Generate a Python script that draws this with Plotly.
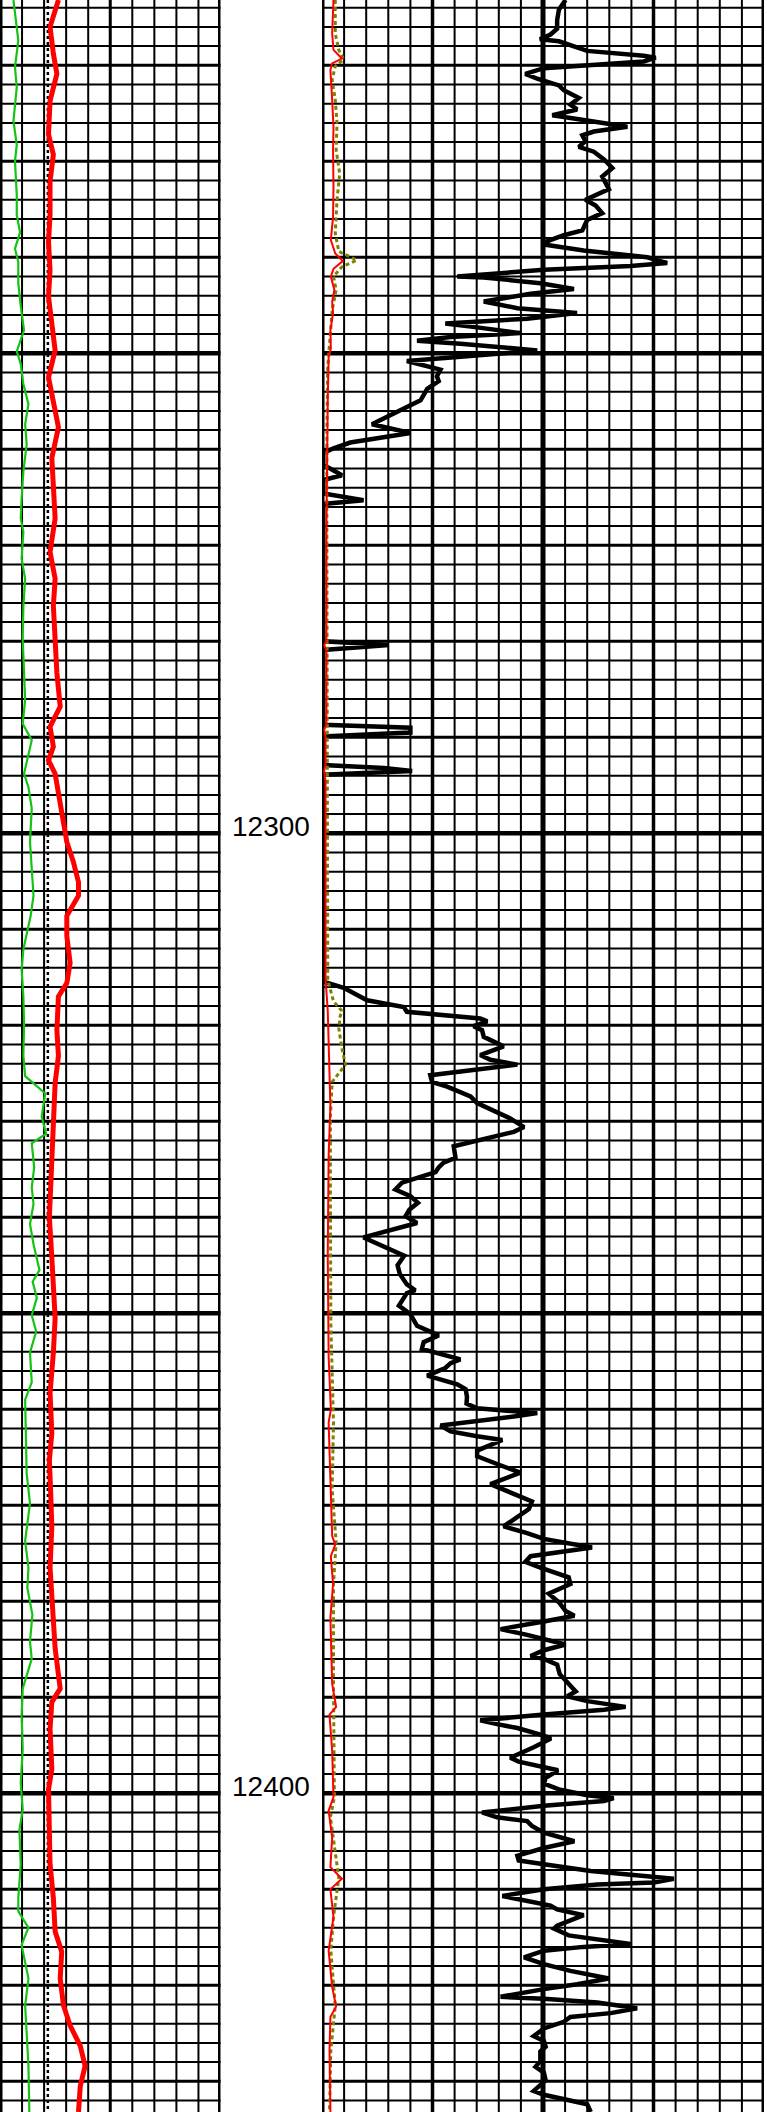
import plotly.graph_objects as go

# Depth window of the sheet (ft)
TOP_DEPTH = 12213.2
BOTTOM_DEPTH = 12433.2

# Depth annotations in the depth column
depth_labels = [12300, 12400]

# ---- Track 1 (scale 0-100, 10 divisions) ----
gr_depth = [12213.2, 12214.6, 12217.4, 12220.2, 12222.3, 12225.8, 12228.3, 12230.0, 12233.5, 12235.6,
            12237.4, 12239.1, 12240.5, 12242.7, 12245.1, 12247.6, 12249.8, 12251.1, 12253.2, 12255.3,
            12257.4, 12259.5, 12262.3, 12265.1, 12267.2, 12268.6, 12271.4, 12273.5, 12276.3, 12279.8,
            12283.3, 12286.1, 12288.6, 12290.3, 12293.8, 12295.2, 12297.4, 12300.9, 12306.5, 12308.6,
            12312.1, 12314.2, 12317.0, 12319.8, 12323.2, 12325.3, 12327.1, 12329.5, 12331.3, 12332.3,
            12334.8, 12336.9, 12338.6, 12340.7, 12342.8, 12345.5, 12346.7, 12348.4, 12350.2, 12351.9,
            12354.1, 12357.2, 12359.0, 12362.5, 12366.7, 12369.8, 12373.7, 12376.5, 12378.6, 12381.4,
            12384.2, 12386.0, 12389.1, 12391.9, 12395.4, 12398.9, 12401.7, 12403.8, 12407.4, 12410.9,
            12412.3, 12414.0, 12415.8, 12419.3, 12422.1, 12425.0, 12428.4, 12433.2]
gr_value = [6.1, 6.8, 8.3, 6.8, 7.6, 6.1, 7.6, 6.8, 7.6, 7.6,
            9.1, 6.8, 8.3, 8.3, 9.4, 10.9, 7.6, 9.4, 10.6, 12.9,
            11.4, 12.1, 10.6, 9.8, 9.4, 10.6, 9.8, 11.4, 10.6, 10.3,
            10.9, 11.4, 10.3, 14.4, 10.9, 12.9, 14.4, 13.6, 15.2, 13.9,
            10.6, 9.8, 10.6, 10.9, 10.6, 11.4, 20.5, 18.9, 20.9, 14.4,
            15.5, 14.4, 15.2, 13.6, 15.2, 17.9, 14.8, 16.7, 14.4, 16.4,
            13.6, 14.4, 11.4, 11.8, 12.1, 13.6, 11.4, 12.9, 12.4, 14.7,
            13.6, 14.4, 10.3, 9.8, 10.3, 9.4, 10.3, 8.8, 9.4, 8.3,
            8.3, 12.9, 9.8, 12.9, 11.4, 12.1, 12.9, 13.3]

cali_depth = [12213.2, 12216.0, 12218.8, 12220.9, 12223.7, 12227.2, 12229.3, 12232.1, 12235.6, 12238.4,
              12241.3, 12244.1, 12246.9, 12249.7, 12252.5, 12255.3, 12257.7, 12260.9, 12263.7, 12267.2,
              12270.7, 12273.5, 12276.3, 12279.8, 12283.3, 12286.8, 12288.9, 12291.0, 12292.4, 12293.8,
              12296.0, 12298.1, 12300.9, 12303.0, 12305.1, 12306.5, 12308.6, 12310.7, 12313.5, 12315.6,
              12317.0, 12320.5, 12323.2, 12326.0, 12330.2, 12335.8, 12340.0, 12344.2, 12350.5, 12354.1,
              12358.3, 12362.5, 12365.3, 12368.8, 12372.3, 12376.5, 12381.4, 12384.9, 12389.1, 12390.5,
              12393.3, 12397.5, 12399.6, 12402.4, 12407.4, 12410.9, 12414.4, 12416.5, 12419.3, 12422.1,
              12424.2, 12426.3, 12428.4, 12430.5, 12433.2]
cali_value = [26.5, 22.7, 24.2, 25.8, 22.7, 22.0, 24.2, 22.7, 22.7, 22.0,
              22.7, 22.0, 23.5, 25.0, 22.0, 24.2, 26.5, 23.5, 24.2, 25.0,
              22.7, 25.0, 24.2, 25.0, 25.8, 27.3, 22.7, 24.2, 22.0, 25.0,
              26.5, 28.0, 30.3, 33.3, 35.6, 35.6, 30.3, 30.3, 31.8, 30.3,
              26.5, 25.8, 26.5, 25.0, 24.2, 22.7, 22.4, 23.5, 25.0, 24.2,
              22.7, 23.5, 22.4, 23.0, 23.5, 22.7, 23.9, 25.0, 27.3, 23.5,
              22.7, 23.5, 22.0, 22.4, 22.7, 24.2, 25.0, 28.0, 27.3, 28.8,
              31.8, 36.4, 38.6, 36.4, 35.6]

bs_depth = [TOP_DEPTH, BOTTOM_DEPTH]
bs_value = [21.7, 21.7]

# ---- Track 3 (scale 0-100, 20 divisions) ----
deep_depth = [12213.2, 12214.2, 12215.3, 12216.2, 12216.8, 12217.3, 12217.5, 12218.5, 12219.0, 12219.2,
              12219.6, 12220.3, 12220.9, 12221.4, 12222.1, 12222.6, 12223.4, 12224.1, 12224.6, 12225.2,
              12225.7, 12226.4, 12226.9, 12227.3, 12227.9, 12228.5, 12229.0, 12229.8, 12230.7, 12231.6,
              12232.9, 12234.0, 12234.6, 12235.4, 12236.1, 12237.2, 12237.7, 12238.4, 12238.7, 12239.3,
              12240.0, 12240.6, 12240.9, 12241.3, 12242.0, 12242.1, 12242.7, 12243.3, 12243.8, 12244.6,
              12245.3, 12245.8, 12246.4, 12246.9, 12247.3, 12247.9, 12248.3, 12248.7, 12249.0, 12249.7,
              12250.3, 12250.8, 12251.7, 12252.4, 12252.9, 12253.7, 12254.9, 12255.8, 12256.6, 12257.4,
              12258.3, 12259.3, 12259.9, 12260.4, 12261.6, 12262.7, 12263.2, 12264.6, 12265.3, 12265.7,
              12280.0, 12280.4, 12280.9, 12288.7, 12289.0, 12289.5, 12289.9, 12292.9, 12293.2, 12293.5,
              12293.9, 12315.1, 12315.5, 12316.1, 12317.4, 12318.1, 12318.6, 12319.3, 12319.6, 12320.1,
              12320.5, 12321.2, 12322.2, 12323.1, 12323.6, 12324.1, 12325.2, 12325.9, 12326.4, 12327.4,
              12328.1, 12329.2, 12329.7, 12330.6, 12331.1, 12332.6, 12333.8, 12334.3, 12334.8, 12335.3,
              12335.8, 12336.4, 12337.1, 12337.8, 12338.5, 12339.2, 12339.9, 12340.6, 12342.1, 12343.2,
              12344.0, 12345.0, 12345.9, 12347.0, 12347.6, 12347.9, 12349.2, 12350.1, 12351.3, 12352.3,
              12353.0, 12353.7, 12354.8, 12355.2, 12355.7, 12356.5, 12357.4, 12357.9, 12358.7, 12359.4,
              12359.9, 12360.4, 12360.7, 12361.7, 12362.3, 12362.8, 12363.2, 12364.3, 12364.9, 12365.7,
              12366.6, 12367.8, 12368.7, 12369.6, 12370.4, 12372.2, 12372.9, 12373.5, 12374.4, 12375.3,
              12375.9, 12376.5, 12377.5, 12378.2, 12379.2, 12380.1, 12381.0, 12381.5, 12382.1, 12382.9,
              12383.5, 12384.5, 12385.1, 12385.7, 12386.0, 12386.6, 12387.6, 12388.3, 12389.4, 12389.9,
              12390.4, 12391.0, 12391.3, 12391.8, 12392.4, 12392.8, 12393.2, 12394.0, 12394.3, 12395.2,
              12396.3, 12396.7, 12397.3, 12397.6, 12398.4, 12399.0, 12399.6, 12400.2, 12400.5, 12400.8,
              12401.3, 12402.0, 12402.5, 12402.9, 12403.4, 12404.1, 12405.0, 12405.7, 12406.5, 12407.0,
              12407.4, 12408.1, 12408.9, 12409.3, 12409.5, 12410.0, 12410.7, 12411.0, 12411.4, 12411.7,
              12412.1, 12412.7, 12413.8, 12414.1, 12414.8, 12415.7, 12416.0, 12416.4, 12417.1, 12417.8,
              12418.5, 12419.3, 12419.9, 12420.4, 12421.2, 12421.4, 12421.8, 12422.4, 12422.9, 12423.3,
              12423.8, 12424.5, 12425.3, 12425.8, 12426.4, 12426.9, 12427.9, 12428.5, 12429.1, 12429.9,
              12431.0, 12431.4, 12432.4, 12433.2]
deep_value = [55.1, 53.6, 53.2, 53.2, 51.7, 49.3, 53.6, 60.0, 72.8, 75.5,
              72.8, 50.2, 46.0, 48.7, 53.6, 54.7, 58.1, 56.2, 57.7, 52.1,
              59.2, 69.1, 61.5, 58.9, 59.6, 58.1, 61.5, 63.8, 65.7, 63.4,
              64.9, 59.6, 61.9, 63.4, 60.0, 58.9, 54.7, 50.6, 50.6, 59.2,
              73.6, 78.1, 69.8, 50.2, 30.6, 36.6, 49.4, 57.0, 47.2, 36.6,
              44.2, 57.7, 46.4, 27.9, 35.1, 44.9, 29.1, 21.5, 31.3, 48.7,
              32.8, 19.2, 26.8, 26.0, 26.4, 23.8, 22.3, 18.5, 14.7, 11.3,
              20.0, 6.4, 2.6, 0.3, 0.3, 4.5, 0.3, 0.3, 9.4, 0.3,
              0.3, 15.1, 0.3, 0.3, 20.0, 20.0, 0.3, 0.3, 14.0, 20.4,
              0.3, 0.3, 0.7, 4.9, 10.2, 18.5, 19.2, 35.8, 37.4, 34.3,
              36.2, 36.6, 41.1, 35.8, 38.1, 44.2, 24.5, 24.9, 28.3, 33.6,
              35.1, 40.4, 42.6, 45.7, 43.4, 29.8, 30.2, 27.5, 26.4, 25.7,
              22.3, 18.1, 16.6, 20.0, 21.7, 19.8, 18.9, 21.5, 9.4, 14.7,
              18.6, 17.1, 17.6, 19.2, 21.1, 19.2, 17.4, 20.0, 21.5, 26.4,
              23.0, 22.6, 31.3, 29.1, 27.9, 23.8, 30.6, 32.5, 32.8, 32.7,
              35.1, 48.7, 44.2, 26.8, 29.1, 35.1, 40.8, 35.1, 35.1, 39.6,
              44.9, 38.1, 42.6, 47.5, 46.8, 41.1, 46.4, 50.2, 61.1, 47.2,
              46.0, 49.4, 55.8, 56.2, 51.3, 53.6, 55.1, 57.1, 50.2, 40.4,
              46.4, 55.1, 50.2, 47.2, 50.2, 53.2, 53.8, 55.1, 57.4, 55.5,
              60.0, 68.7, 63.8, 50.2, 35.8, 39.6, 44.2, 50.2, 51.8, 47.9,
              42.6, 44.5, 50.2, 53.4, 50.6, 50.2, 53.6, 60.0, 66.0, 63.8,
              50.2, 36.2, 39.6, 46.4, 47.5, 50.2, 57.1, 50.2, 44.2, 44.5,
              50.2, 60.8, 79.6, 75.1, 62.3, 50.2, 40.8, 44.2, 48.7, 51.7,
              53.2, 59.2, 53.2, 52.5, 55.8, 69.8, 59.2, 50.2, 45.7, 50.2,
              56.2, 64.9, 57.7, 50.2, 40.4, 50.2, 62.3, 71.3, 65.3, 56.2,
              54.7, 50.2, 47.9, 50.2, 50.6, 49.4, 49.4, 48.3, 50.2, 50.6,
              47.9, 50.2, 60.0, 60.8]

med_depth = [12213.2, 12216.7, 12218.4, 12219.3, 12219.8, 12220.5, 12223.6, 12226.4, 12228.8, 12232.6,
             12235.8, 12238.2, 12239.6, 12240.4, 12241.2, 12242.0, 12243.4, 12244.6, 12245.8, 12247.6,
             12249.5, 12250.4, 12254.9, 12261.8, 12268.2, 12280.0, 12280.4, 12280.9, 12288.7, 12289.2,
             12289.9, 12292.9, 12293.5, 12294.6, 12315.1, 12318.5, 12322.4, 12323.2, 12328.4, 12333.6,
             12344.0, 12354.5, 12360.0, 12361.4, 12368.3, 12373.2, 12374.1, 12375.3, 12378.2, 12381.7,
             12388.6, 12391.0, 12391.8, 12395.6, 12400.4, 12401.8, 12404.6, 12407.7, 12408.9, 12410.0,
             12412.9, 12416.4, 12420.2, 12422.2, 12423.3, 12426.8, 12433.2]
med_value = [2.6, 2.3, 2.6, 4.5, 2.3, 1.9, 2.3, 2.6, 2.5, 2.6,
             2.5, 2.0, 3.0, 4.7, 2.6, 2.0, 2.8, 2.3, 2.5, 1.9,
             2.0, 1.5, 1.3, 1.1, 1.0, 1.0, 0.5, 1.0, 1.0, 0.5,
             0.8, 0.8, 0.5, 0.8, 0.8, 1.3, 1.5, 1.7, 1.9, 1.5,
             1.3, 1.5, 2.0, 1.5, 1.9, 2.3, 3.0, 2.0, 2.5, 1.9,
             2.3, 3.2, 1.7, 2.3, 2.6, 1.5, 2.3, 1.9, 4.5, 1.9,
             2.6, 1.5, 2.3, 3.2, 1.9, 1.7, 1.9]

shal_depth = [12213.2, 12216.7, 12218.4, 12219.4, 12220.1, 12221.5, 12223.6, 12226.0, 12228.8, 12231.3,
              12234.0, 12237.5, 12239.4, 12240.3, 12241.0, 12242.0, 12243.4, 12245.5, 12247.9, 12251.4,
              12258.3, 12268.2, 12315.1, 12315.6, 12317.5, 12318.5, 12319.1, 12320.3, 12322.4, 12324.1,
              12325.9, 12329.5, 12337.1, 12351.0, 12361.4, 12368.3, 12373.9, 12378.2, 12388.6, 12400.4,
              12402.5, 12408.8, 12412.9, 12416.4, 12422.1, 12426.8, 12433.2]
shal_value = [3.0, 3.0, 3.8, 4.9, 3.0, 2.3, 3.0, 3.4, 3.2, 4.0,
              3.4, 3.0, 3.8, 7.9, 4.5, 2.6, 3.2, 2.3, 1.9, 1.3,
              1.1, 1.1, 1.3, 1.5, 2.6, 4.5, 4.1, 3.8, 4.5, 5.3,
              2.3, 1.9, 1.9, 2.0, 2.6, 2.3, 3.2, 2.6, 2.6, 2.8,
              1.9, 3.8, 2.6, 2.0, 3.0, 2.0, 1.7]

# ---- Sheet geometry ----
W, H = 767, 2112
TRACK1 = [0.0, 220.5 / W]
DEPTH_COL = [220.5 / W, 322.0 / W]
TRACK3 = [322.0 / W, 764.0 / W]

GREEN = "#14c314"
RED = "#ff0000"
OLIVE = "#808000"
BLACK = "#000000"

fig = go.Figure()

fig.add_trace(go.Scatter(x=bs_value, y=bs_depth, xaxis="x", yaxis="y", mode="lines",
                         line=dict(color=BLACK, width=2.5, dash="3px,3px")))
fig.add_trace(go.Scatter(x=gr_value, y=gr_depth, xaxis="x", yaxis="y", mode="lines",
                         line=dict(color=GREEN, width=2.2)))
fig.add_trace(go.Scatter(x=cali_value, y=cali_depth, xaxis="x", yaxis="y", mode="lines",
                         line=dict(color=RED, width=5)))

fig.add_trace(go.Scatter(x=deep_value, y=deep_depth, xaxis="x3", yaxis="y3", mode="lines",
                         line=dict(color=BLACK, width=4.5)))
fig.add_trace(go.Scatter(x=shal_value, y=shal_depth, xaxis="x3", yaxis="y3", mode="lines",
                         line=dict(color=OLIVE, width=3, dash="4px,3px")))
fig.add_trace(go.Scatter(x=med_value, y=med_depth, xaxis="x3", yaxis="y3", mode="lines",
                         line=dict(color=RED, width=2)))

# ---- Grid ----
shapes = []
grid_depths = [d for d in range(12214, 12434, 2)]
for weight_pass in (0, 1, 2):
    for d in grid_depths:
        w = 4.5 if d % 50 == 0 else (3 if d % 10 == 0 else 2)
        level = 2 if d % 50 == 0 else (1 if d % 10 == 0 else 0)
        if level != weight_pass:
            continue
        for xr, yr in (("x domain", "y"), ("x3 domain", "y3")):
            shapes.append(dict(type="line", layer="below", xref=xr, yref=yr,
                               x0=0, x1=1, y0=d, y1=d,
                               line=dict(color=BLACK, width=w)))

for v in range(0, 101, 10):
    w = 5 if v in (0, 100) else (3 if v == 50 else 2)
    shapes.append(dict(type="line", layer="below", xref="x", yref="y domain",
                       x0=v, x1=v, y0=0, y1=1, line=dict(color=BLACK, width=w)))
for v in range(0, 101, 5):
    w = 5 if v in (0, 50, 100) else (3.5 if v in (25, 75) else 2)
    shapes.append(dict(type="line", layer="below", xref="x3", yref="y3 domain",
                       x0=v, x1=v, y0=0, y1=1, line=dict(color=BLACK, width=w)))

annotations = [dict(x=0.5, y=d, xref="x2", yref="y2", text=str(d), showarrow=False,
                    xanchor="center", yanchor="middle", yshift=7,
                    font=dict(family="Liberation Sans, Arial, sans-serif", size=28, color=BLACK))
               for d in depth_labels]

axis_off = dict(visible=False, showgrid=False, zeroline=False, fixedrange=True)
yrange = [BOTTOM_DEPTH, TOP_DEPTH]

fig.update_layout(
    width=W, height=H,
    margin=dict(l=0, r=0, t=0, b=0),
    paper_bgcolor="white",
    plot_bgcolor="rgba(0,0,0,0)",
    showlegend=False,
    hovermode=False,
    xaxis=dict(domain=TRACK1, range=[0, 100], anchor="y", **axis_off),
    yaxis=dict(domain=[0, 1], range=yrange, anchor="x", **axis_off),
    xaxis2=dict(domain=DEPTH_COL, range=[0, 1], anchor="y2", **axis_off),
    yaxis2=dict(domain=[0, 1], range=yrange, anchor="x2", matches="y", **axis_off),
    xaxis3=dict(domain=TRACK3, range=[0, 100], anchor="y3", **axis_off),
    yaxis3=dict(domain=[0, 1], range=yrange, anchor="x3", matches="y", **axis_off),
    shapes=shapes,
    annotations=annotations,
)

fig.write_html("out.html")
